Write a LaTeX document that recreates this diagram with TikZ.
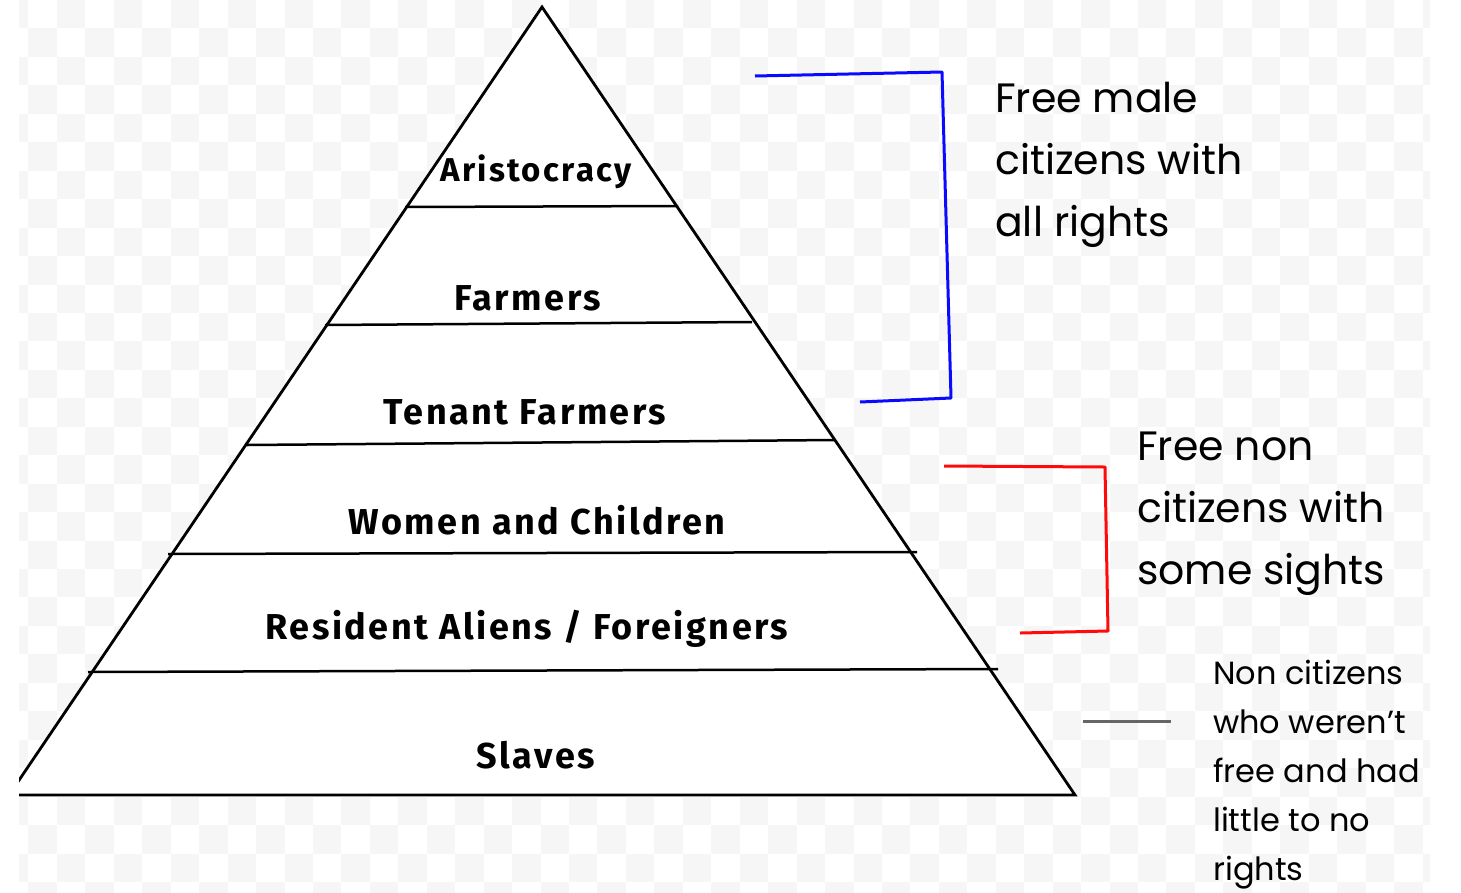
\documentclass[tikz,border=0pt]{standalone}
\usepackage{fontspec}
\usetikzlibrary{calc}
\newfontfamily\tierfont{Fira Sans}[LetterSpace=7]
\newfontfamily\notefont{Poppins}
\definecolor{chk}{RGB}{246,246,246}
\definecolor{penblue}{RGB}{10,10,255}
\definecolor{penred}{RGB}{255,10,10}

\begin{document}
\begin{tikzpicture}[x=1pt, y=-1pt,
    rung/.style={line width=2.5pt},
    tier/.style={font=\tierfont\bfseries\fontsize{36}{42}\selectfont, inner sep=0pt},
    note/.style={font=\notefont\fontsize{41}{62}\selectfont, align=left,
      anchor=north west, inner sep=0pt},
    smallnote/.style={note, font=\notefont\fontsize{32}{49}\selectfont},
    bracket/.style={line width=3pt, line join=round}]

  \useasboundingbox (0,0) rectangle (1461,892);

  % checkered background
  \begin{scope}
    \clip (19,0) rectangle (1430,892);
    \foreach \i in {0,...,50}
      \foreach \j in {0,...,31}{
        \pgfmathparse{int(mod(\i+\j,2))}
        \ifnum\pgfmathresult=0
          \fill[chk] ({\i*28.45},{\j*28.45}) rectangle ({(\i+1)*28.45},{(\j+1)*28.45});
        \fi
      }
  \end{scope}

  % pyramid
  \coordinate (apex) at (542,7);
  \coordinate (bl) at (9,795);
  \coordinate (br) at (1075,795);
  \begin{scope}
    \clip (19,0) rectangle (1461,892);
    \filldraw[fill=white, line width=2.8pt] (bl) -- (apex) -- (br) -- cycle;
  \end{scope}
  \draw[rung] (405,207) -- (678,206);
  \draw[rung] (325,325) -- (752,322);
  \draw[rung] (247,445) -- (835,440);
  \draw[rung] (168,554) -- (917,552);
  \draw[rung] (88,672) -- (998,669);

  \node[tier, font=\tierfont\bfseries\fontsize{33}{40}\selectfont] (aris) at (536,172) {Aristocracy};
  \node[tier] (farm)  at (528,298) {Farmers};
  \node[tier] (tenant) at (525,412) {Tenant Farmers};
  \node[tier] (women) at (537,520) {Women and Children};
  \node[tier] (alien) at (527,629) {Resident Aliens / Foreigners};
  \node[tier] (slave) at (536,755) {Slaves};

  % notes on the right
  \node[note] (citizens) at (995,82) {Free male\\citizens with\\all rights};
  \node[note] (noncit) at (1137,432) {Free non\\citizens with\\some sights};
  \node[smallnote] (unfree) at (1213,660) {Non citizens\\who weren’t\\free and had\\little to no\\rights};

  % brackets
  \coordinate (b1) at (755,76);
  \coordinate (b2) at (942,72);
  \coordinate (b3) at (951,398);
  \coordinate (b4) at (860,402);
  \draw[bracket, penblue] (b1) -- (b2) -- (b3) -- (b4);
  \coordinate (r1) at (944,466);
  \coordinate (r2) at (1105,467);
  \coordinate (r3) at (1108,631);
  \coordinate (r4) at (1020,633);
  \draw[bracket, penred] (r1) -- (r2) -- (r3) -- (r4);
  \coordinate (g1) at (1083,721);
  \coordinate (g2) at (1171,721);
  \draw[line width=3pt, black!60] (g1) -- (g2);
\end{tikzpicture}
\end{document}
